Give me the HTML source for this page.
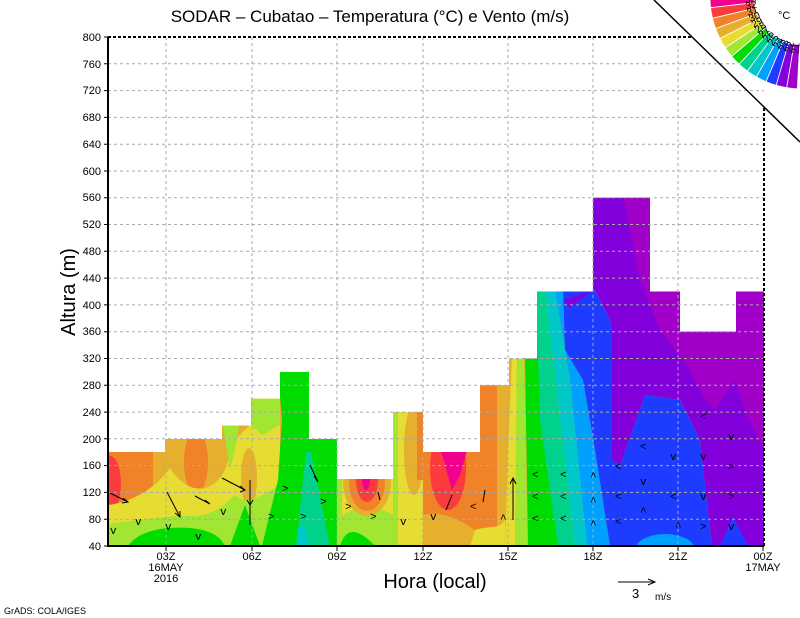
<!DOCTYPE html>
<html><head><meta charset="utf-8"><style>
html,body{margin:0;padding:0;background:#fff;}
svg{display:block;font-family:"Liberation Sans",sans-serif;}
</style></head><body>
<svg id="s" width="800" height="618" viewBox="0 0 800 618" xmlns="http://www.w3.org/2000/svg">
<defs>
<clipPath id="cp"><path d="M108,546 V452 H165 V439 H222 V425.5 H251 V398.7 H280 V372 H309 V439 H337 V479 H393 V412 H423 V452 H480 V385.3 H509 V358.5 H537 V291.5 H593 V197.7 H650 V291.5 H680 V331.7 H736 V291.5 H764 V546 Z"/></clipPath>
</defs>
<rect width="800" height="618" fill="#fff"/>
<g clip-path="url(#cp)">
<rect x="108" y="190" width="656" height="360" fill="#e6af2d"/>
<rect x="108" y="440" width="45" height="110" fill="#f08228"/>
<ellipse cx="110" cy="484" rx="11" ry="28" fill="#fa3c3c"/>
<ellipse cx="196" cy="462" rx="12" ry="32" fill="#f08228"/>
<path d="M108,505 C135,502 158,485 170,468 C185,492 210,498 225,470 L235,440 L255,420 L280,420 L280,546 L108,546Z" fill="#e6dc32"/>
<path d="M222,420 L240,420 L236,445 L230,470 Z" fill="#a0e632"/>
<rect x="251" y="395" width="29" height="151" fill="#e6dc32"/>
<path d="M251,395 L280,395 L280,425 L262,435 L251,425Z" fill="#a0e632"/>
<ellipse cx="249" cy="478" rx="8" ry="30" fill="#e6af2d"/>
<path d="M108,524 C140,520 170,515 190,516 C212,517 225,505 235,495 C245,505 255,500 280,485 L280,546 L108,546Z" fill="#a0e632"/>
<path d="M128,546 C138,532 160,526 190,528 C210,530 220,536 225,546Z M230,546 L245,505 L260,546Z" fill="#00dc00"/>
<path d="M277,360 L330,360 L330,439 L337,439 L337,500 L360,520 L375,546 L262,546 L278,480 L282,420 Z" fill="#00dc00"/>
<path d="M306,452 L311,452 L330,546 L296,546Z" fill="#00d28c"/>
<path d="M298,528 L306,528 L308,546 L296,546Z" fill="#00c8c8"/>
<path d="M337,479 L393,479 L393,546 L337,546Z" fill="#e6dc32"/>
<path d="M337,520 C350,505 380,505 393,515 L393,546 L337,546Z" fill="#a0e632"/>
<path d="M340,546 C345,530 355,525 375,546Z" fill="#00dc00"/>
<path d="M337,470 L342,470 L342,520 L337,520Z" fill="#a0e632"/>
<ellipse cx="367" cy="482" rx="24" ry="34" fill="#e6af2d"/>
<ellipse cx="367" cy="482" rx="18" ry="29" fill="#f08228"/>
<ellipse cx="367" cy="480" rx="11" ry="22" fill="#fa3c3c"/>
<ellipse cx="366" cy="480" rx="4" ry="10" fill="#f0008c"/>
<rect x="393" y="400" width="30" height="146" fill="#e6dc32"/>
<rect x="393" y="400" width="5" height="146" fill="#a0e632"/>
<ellipse cx="414" cy="450" rx="10" ry="45" fill="#e6af2d"/>
<rect x="417" y="400" width="6" height="80" fill="#f08228"/>
<rect x="423" y="440" width="57" height="106" fill="#f08228"/>
<ellipse cx="448" cy="468" rx="18" ry="42" fill="#fa3c3c"/>
<path d="M438,440 L470,440 L460,475 L452,490Z" fill="#f0008c"/>
<path d="M423,515 C440,510 460,520 475,530 L475,546 L423,546Z" fill="#e6af2d"/>
<rect x="480" y="380" width="17" height="166" fill="#f08228"/>
<rect x="497" y="380" width="12" height="166" fill="#e6af2d"/>
<path d="M475,530 C490,525 500,530 505,520 L505,546 L470,546Z" fill="#e6dc32"/>
<path d="M512,358 L517,358 L515,546 L505,546 L508,450Z" fill="#e6dc32"/>
<path d="M517,358 L524,358 L528,546 L515,546Z" fill="#a0e632"/>
<path d="M524,290 L536,290 L558,546 L528,546Z" fill="#00dc00"/>
<path d="M536,290 L545,290 L575,546 L558,546 L540,420Z" fill="#00d28c"/>
<path d="M545,290 L555,290 L570,380 L587,546 L575,546Z" fill="#00c8c8"/>
<path d="M555,290 L563,290 L565,350 L583,380 L595,450 L610,546 L587,546 L570,380Z" fill="#00a0ff"/>
<path d="M563,290 L595,290 L610,320 L612,330 L612,460 L620,465 L645,395 L680,400 L700,440 L712,546 L610,546 L595,450 L583,380 L565,350Z" fill="#1e3cff"/>
<path d="M563,300 L593,290 L580,300 L570,308Z" fill="#8200dc"/>
<path d="M593,190 L770,190 L770,550 L712,546 L700,440 L680,400 L645,395 L620,465 L612,460 L612,330 L610,320 L595,290 L593,290Z" fill="#8200dc"/>
<path d="M622,190 L770,190 L770,450 L764,450 L745,410 L735,380 L715,410 L705,400 L690,370 L660,330 L640,280 L630,230Z" fill="#a000c8"/>
<path d="M720,546 L733,517 L748,546Z" fill="#1e3cff"/>
<ellipse cx="665" cy="550" rx="30" ry="16" fill="#00a0ff"/>
</g>
<g stroke="#aaa" stroke-width="1" stroke-dasharray="3,3" fill="none">
<path d="M108,519.2H764M108,492.4H764M108,465.6H764M108,438.8H764M108,412.1H764M108,385.3H764M108,358.5H764M108,331.7H764M108,304.9H764M108,278.1H764M108,251.3H764M108,224.5H764M108,197.7H764M108,171H764M108,144.2H764M108,117.4H764M108,90.6H764M108,63.8H764"/>
<path d="M166,37V546M252,37V546M337,37V546M423,37V546M508,37V546M593,37V546M678,37V546"/>
</g>
<g stroke="#000" stroke-width="1" fill="none">
<path d="M110,493 L128,502 M123,498 L128,502 L122,503"/>
<path d="M167,492 L180,517 M175,513 L180,517 L180,511"/>
<path d="M222,478 L245,490 M240,486 L245,490 L240,492"/>
<path d="M195,496 L210,504 M205,500 L210,504"/>
<path d="M250,480 L250,525 M247,500 L250,505 L253,500"/>
<path d="M310,465 L318,482 M314,476 L318,482"/>
<path d="M380,500 L378,492"/>
<path d="M452,495 L446,510"/>
<path d="M485,490 L483,502"/>
<path d="M513,478 L513,520 M510,484 L513,478 L516,484"/>
</g>
<g font-family="Liberation Mono,monospace" font-size="11" fill="#000">
<text x="110" y="534">v</text><text x="135" y="525">v</text><text x="165" y="530">v</text><text x="195" y="540">v</text>
<text x="220" y="515">v</text><text x="268" y="520">&gt;</text><text x="282" y="492">&gt;</text><text x="300" y="520">&gt;</text>
<text x="320" y="505">&gt;</text><text x="345" y="510">&gt;</text><text x="370" y="520">&gt;</text><text x="400" y="525">v</text>
<text x="430" y="520">v</text><text x="470" y="510">&lt;</text><text x="500" y="522">^</text>
<text x="532" y="478">&lt;</text><text x="532" y="500">&lt;</text><text x="532" y="522">&lt;</text><text x="560" y="478">&lt;</text><text x="560" y="500">&lt;</text><text x="560" y="522">&lt;</text>
<text x="590" y="480">^</text><text x="590" y="505">^</text><text x="590" y="528">^</text><text x="615" y="470">&lt;</text><text x="615" y="500">&lt;</text><text x="615" y="525">&lt;</text>
<text x="640" y="450">&lt;</text><text x="640" y="485">v</text><text x="640" y="515">^</text><text x="670" y="460">v</text><text x="670" y="500">&lt;</text>
<text x="675" y="530">^</text><text x="700" y="420">&lt;</text><text x="700" y="460">v</text><text x="700" y="500">v</text><text x="700" y="530">&gt;</text>
<text x="728" y="440">v</text><text x="728" y="470">&gt;</text><text x="728" y="500">&gt;</text><text x="728" y="530">v</text>
</g>
<path d="M108,37 H692 M764,108 V546" stroke="#000" stroke-width="2" stroke-dasharray="3,2" fill="none"/>
<path d="M108,37 V546 H764" stroke="#000" stroke-width="2" fill="none"/>
<path d="M654,0 L800,142" stroke="#000" stroke-width="1.5"/>
<g stroke="#000" stroke-width="1">
<path d="M104,546H108M104,519.2H108M104,492.4H108M104,465.6H108M104,438.8H108M104,412.1H108M104,385.3H108M104,358.5H108M104,331.7H108M104,304.9H108M104,278.1H108M104,251.3H108M104,224.5H108M104,197.7H108M104,171H108M104,144.2H108M104,117.4H108M104,90.6H108M104,63.8H108M104,37H108"/>
<path d="M166,546V551M252,546V551M337,546V551M423,546V551M508,546V551M593,546V551M678,546V551M763,546V551"/>
</g>
<g font-size="11" text-anchor="end" fill="#000">
<text x="101" y="550">40</text><text x="101" y="523">80</text><text x="101" y="496">120</text><text x="101" y="469">160</text><text x="101" y="443">200</text><text x="101" y="416">240</text><text x="101" y="389">280</text><text x="101" y="362">320</text><text x="101" y="335">360</text><text x="101" y="309">400</text><text x="101" y="282">440</text><text x="101" y="255">480</text><text x="101" y="228">520</text><text x="101" y="201">560</text><text x="101" y="175">600</text><text x="101" y="148">640</text><text x="101" y="121">680</text><text x="101" y="94">720</text><text x="101" y="68">760</text><text x="101" y="41">800</text>
</g>
<g font-size="11" text-anchor="middle" fill="#000">
<text x="166" y="560">03Z</text><text x="166" y="571">16MAY</text><text x="166" y="582">2016</text>
<text x="252" y="560">06Z</text><text x="337" y="560">09Z</text><text x="423" y="560">12Z</text><text x="508" y="560">15Z</text><text x="593" y="560">18Z</text><text x="678" y="560">21Z</text>
<text x="763" y="560">00Z</text><text x="763" y="571">17MAY</text>
</g>
<text x="370" y="22" font-size="17" text-anchor="middle">SODAR – Cubatao – Temperatura (°C) e Vento (m/s)</text>
<text x="435" y="588" font-size="20" text-anchor="middle">Hora (local)</text>
<text transform="translate(75,292) rotate(-90)" font-size="20" text-anchor="middle">Altura (m)</text>
<text x="4" y="614" font-size="9">GrADS: COLA/IGES</text>
<path d="M618,582 H655 M648,579 L655,582 L648,585" stroke="#000" fill="none"/>
<text x="632" y="598" font-size="13">3</text><text x="655" y="600" font-size="10">m/s</text>
<g id="leg"></g>
<text x="778" y="19" font-size="11">°C</text>
</svg>
<script>
(function(){
var cols=["#f0008c","#fa3c3c","#f08228","#e6af2d","#e6dc32","#a0e632","#00dc00","#00d28c","#00c8c8","#00a0ff","#1e3cff","#8200dc","#a000c8"];
var g=document.getElementById("leg");
var cx=802,cy=-3,r1=48,r2=92,a0=180,step=6.7,h="";
function p(r,a){a=a*Math.PI/180;return (cx+r*Math.cos(a)).toFixed(1)+","+(cy+r*Math.sin(a)).toFixed(1);}
for(var i=0;i<13;i++){
 var a=a0-i*step,b=a-step;
 h+='<path d="M'+p(r1,a)+' L'+p(r2,a)+' A'+r2+','+r2+' 0 0 0 '+p(r2,b)+' L'+p(r1,b)+' A'+r1+','+r1+' 0 0 1 '+p(r1,a)+'Z" fill="'+cols[i]+'" stroke="#fff" stroke-width="0.8"/>';
 var m=a-step/2,q=p(r1-2,m).split(",");
 h+='<text x="'+q[0]+'" y="'+q[1]+'" font-size="10" text-anchor="end" dominant-baseline="middle" transform="rotate('+(m-180).toFixed(1)+' '+q[0]+' '+q[1]+')">'+(33-i)+'</text>';
}
g.innerHTML=h;
})();
</script>
</body></html>
